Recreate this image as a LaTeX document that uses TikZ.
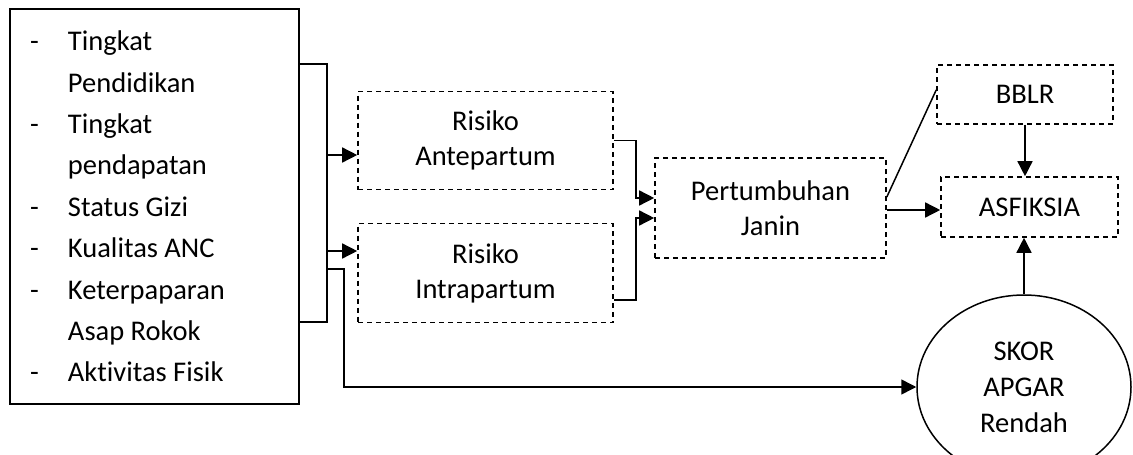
\documentclass[tikz,border=0pt]{standalone}
\usepackage{fontspec}
\setmainfont[Ligatures=NoCommon]{Carlito}
\usetikzlibrary{positioning,shapes.geometric,arrows.meta}

\begin{document}
\begin{tikzpicture}[x=1pt, y=-1pt,
  every node/.style={align=center, inner sep=0pt, font=\fontsize{28.5}{35}\selectfont},
  risiko/.style={draw, dash pattern=on 5pt off 4pt, line width=1.6pt, rectangle},
  faktor/.style={draw, line width=1.5pt, rectangle, align=flush left, text width=249pt, inner xsep=20pt,
    font=\fontsize{28.5}{41.4}\selectfont},
  skor/.style={draw, ellipse, line width=1.5pt, minimum width=214pt, minimum height=184pt,
    font=\fontsize{28.5}{36}\selectfont},
  panah/.style={-{Triangle[length=15pt,width=15pt]}, line width=1.5pt},
  garis/.style={line width=1.5pt}]
\useasboundingbox (0,0) rectangle (1133,455);

% Faktor risiko ibu
\node (faktor) [faktor, minimum width=289pt, minimum height=395pt] at (154.5,206.5) {%
\makebox[38pt][l]{-}Tingkat\\
\makebox[38pt][l]{}Pendidikan\\
\makebox[38pt][l]{-}Tingkat\\
\makebox[38pt][l]{}pendapatan\\
\makebox[38pt][l]{-}Status Gizi\\
\makebox[38pt][l]{-}Kualitas ANC\\
\makebox[38pt][l]{-}Keterpaparan\\
\makebox[38pt][l]{}Asap Rokok\\
\makebox[38pt][l]{-}Aktivitas Fisik};

% Kotak putus-putus
\node (ante) [risiko, minimum width=255pt, minimum height=98pt] at (485.5,140.5) {Risiko\\Antepartum};
\node (intra) [risiko, minimum width=255pt, minimum height=99pt] at (485.5,273) {Risiko\\Intrapartum};
\node (janin) [risiko, minimum width=231pt, minimum height=100pt] at (770.5,208) {Pertumbuhan\\Janin};
\node (bblr) [risiko, minimum width=176pt, minimum height=59pt] at (1025,94.5) {BBLR};
\node (asf) [risiko, minimum width=177pt, minimum height=60pt] at (1029.5,207) {ASFIKSIA};
\node (apgar) [skor] at (1024,387) {SKOR\\APGAR\\Rendah};

% Kurung kanan faktor
\coordinate (ka) at (327,64);
\coordinate (kb) at (327,322);
\draw[garis] (faktor.east |- ka) -- (ka) -- (kb) -- (faktor.east |- kb);

\coordinate (a1) at (327,155);
\coordinate (a2) at (327,251);
\coordinate (a3) at (327,269);
\draw[panah] (a1) -- (a1 -| ante.west);
\draw[panah] (a2) -- (a2 -| intra.west);
\draw[panah] (a3) -- ++(17,0) |- (apgar.west);

% Menuju pertumbuhan janin
\draw[panah] (ante.east) -- ++(22,0) |- ([yshift=10pt]janin.west);
\draw[panah] ([yshift=-27pt]intra.east) -- ++(22,0) |- ([yshift=-10pt]janin.west);

% Sisi kanan
\draw[garis] ([yshift=11pt]janin.east) -- ([yshift=4.5pt]bblr.west);
\draw[panah] ([yshift=-2pt]janin.east) -- ([yshift=-2pt]janin.east -| asf.west);
\draw[panah] (bblr.south) -- (bblr.south |- asf.north);
\draw[panah] (apgar.north) -- (apgar.north |- asf.south);
\end{tikzpicture}
\end{document}
